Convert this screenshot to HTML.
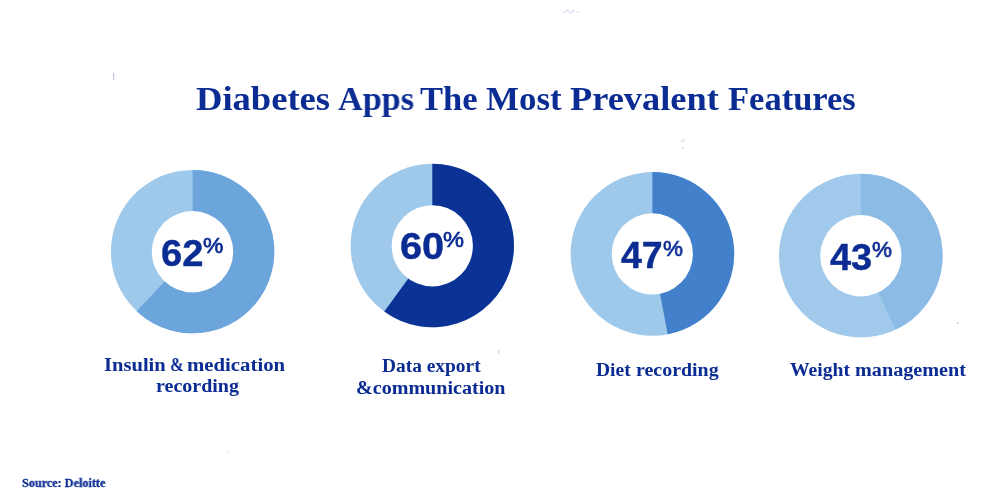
<!DOCTYPE html>
<html><head><meta charset="utf-8"><style>
html,body{margin:0;padding:0;background:#fff;width:1000px;height:500px;overflow:hidden;position:relative}
svg{position:absolute;left:0;top:0}
div{position:absolute;white-space:nowrap;line-height:1;color:#0b2c92;transform-origin:0 0;will-change:transform}
.s{font-family:"Liberation Serif",serif;font-weight:bold}
.b{font-family:"Liberation Sans",sans-serif;font-weight:bold;-webkit-text-stroke:0.4px #0b2c92}
.r{font-family:"Liberation Sans",sans-serif;font-weight:normal;-webkit-text-stroke:0.7px #0b2c92}
</style></head><body>
<svg width="1000" height="500" viewBox="0 0 1000 500">
<circle cx="192.6" cy="251.6" r="81.7" fill="#9fc9eb"/>
<path fill="#6ca4dc" d="M192.6 251.6L192.6 169.90A81.7 81.7 0 1 1 136.67 311.16Z"/>
<circle cx="192.5" cy="251.75" r="40.7" fill="#fff"/>
<circle cx="432.3" cy="245.5" r="81.7" fill="#9fc9eb"/>
<path fill="#0b3396" d="M432.3 245.5L432.3 163.80A81.7 81.7 0 1 1 384.28 311.60Z"/>
<circle cx="432.3" cy="245.85" r="40.6" fill="#fff"/>
<circle cx="652.4" cy="253.9" r="81.8" fill="#9fc9eb"/>
<path fill="#4280cc" d="M652.4 253.9L652.4 172.10A81.8 81.8 0 0 1 667.73 334.25Z"/>
<circle cx="652.3" cy="253.9" r="40.6" fill="#fff"/>
<circle cx="860.8" cy="255.6" r="81.8" fill="#a0c9ec"/>
<path fill="#8cbbe6" d="M860.8 255.6L860.8 173.80A81.8 81.8 0 0 1 895.63 329.61Z"/>
<circle cx="860.85" cy="255.75" r="40.65" fill="#fff"/>
<rect x="113" y="73" width="1.2" height="7" fill="#c4c4ea"/>
<rect x="498" y="349.5" width="1.3" height="4" fill="#cfcfee"/>
<rect x="681.5" y="140.5" width="1.5" height="1.5" fill="#d0d0ee"/><rect x="683.5" y="139.5" width="1.5" height="1.5" fill="#d0d0ee"/><rect x="682" y="147" width="1.3" height="2" fill="#d4d4ef"/>
<g fill="#c6c6ea"><rect x="564" y="11.5" width="1.2" height="1.5"/><rect x="566" y="10" width="3" height="1.2"/><rect x="569" y="12" width="1" height="1.3"/><rect x="571.5" y="11" width="1" height="2.5"/><rect x="572.5" y="10" width="2" height="1"/><rect x="577" y="11.5" width="1.3" height="1.3"/></g>
<rect x="956.5" y="322.5" width="2.5" height="1.2" fill="#b8c8ee"/><rect x="227.5" y="452" width="1.2" height="1" fill="#d0d4e8"/>
</svg>
<div class="s" style="left:196.25px;top:81.00px;font-size:34.5px;transform:scaleX(1.0602)">Diabetes</div>
<div class="s" style="left:337.69px;top:81.00px;font-size:34.5px;transform:scaleX(0.9919)">Apps</div>
<div class="s" style="left:420.37px;top:81.00px;font-size:34.5px;transform:scaleX(0.9965)">The</div>
<div class="s" style="left:486.29px;top:81.00px;font-size:34.5px;transform:scaleX(1.0128)">Most</div>
<div class="s" style="left:570.26px;top:81.00px;font-size:34.5px;transform:scaleX(1.0538)">Prevalent</div>
<div class="s" style="left:728.30px;top:81.00px;font-size:34.5px;transform:scaleX(0.9983)">Features</div>
<div class="b" style="left:161.21px;top:235.00px;font-size:37px;transform:scaleX(1.0312)">62</div>
<div class="r" style="left:203.09px;top:233.87px;font-size:22.7px;transform:scaleX(1.0080)">%</div>
<div class="b" style="left:400.15px;top:228.40px;font-size:37px;transform:scaleX(1.0747)">60</div>
<div class="r" style="left:443.06px;top:228.27px;font-size:22.7px;transform:scaleX(1.0405)">%</div>
<div class="b" style="left:621.33px;top:236.90px;font-size:37px;transform:scaleX(1.0129)">47</div>
<div class="r" style="left:662.91px;top:236.67px;font-size:22.7px;transform:scaleX(0.9863)">%</div>
<div class="b" style="left:829.52px;top:239.00px;font-size:37px;transform:scaleX(1.0256)">43</div>
<div class="r" style="left:871.71px;top:238.07px;font-size:22.7px;transform:scaleX(0.9863)">%</div>
<div class="s" style="left:104.25px;top:354.80px;font-size:19.2px;transform:scaleX(1.0723)">Insulin</div>
<div class="s" style="left:170.05px;top:354.80px;font-size:19.2px;transform:scaleX(0.8625)">&amp;</div>
<div class="s" style="left:187.23px;top:354.80px;font-size:19.2px;transform:scaleX(1.0827)">medication</div>
<div class="s" style="left:155.75px;top:376.20px;font-size:19.2px;transform:scaleX(1.0421)">recording</div>
<div class="s" style="left:381.71px;top:356.40px;font-size:19.4px;transform:scaleX(1.0010)">Data export</div>
<div class="s" style="left:356.03px;top:377.90px;font-size:19.4px;transform:scaleX(1.0352)">&amp;communication</div>
<div class="s" style="left:596.00px;top:360.00px;font-size:19.2px;transform:scaleX(1.0159)">Diet</div>
<div class="s" style="left:636.45px;top:360.00px;font-size:19.2px;transform:scaleX(1.0383)">recording</div>
<div class="s" style="left:789.91px;top:360.00px;font-size:19.2px;transform:scaleX(1.0225)">Weight</div>
<div class="s" style="left:854.95px;top:360.00px;font-size:19.2px;transform:scaleX(1.0523)">management</div>
<div class="s" style="left:21.82px;top:476.60px;font-size:12.5px;transform:scaleX(0.9745);-webkit-text-stroke:0.3px #0b2c92">Source: Deloitte</div>
</body></html>
